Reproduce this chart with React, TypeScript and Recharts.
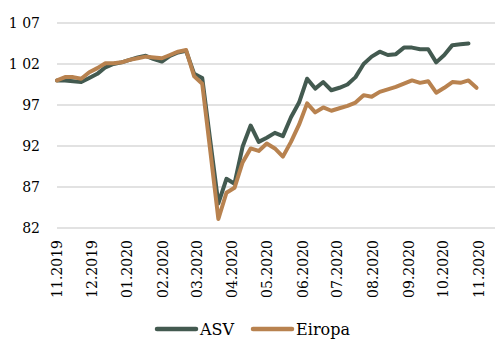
import { LineChart, Line, XAxis, YAxis, CartesianGrid } from "recharts";

// weekly observations, index 100 at 01.11.2019
const ASV = [
  100.0, 100.0, 99.9, 99.8, 100.3, 100.8, 101.6, 102.0, 102.2, 102.5, 102.8,
  103.0, 102.6, 102.3, 103.0, 103.4, 103.6, 100.8, 100.3, 92.6, 85.0, 88.0,
  87.4, 91.9, 94.5, 92.5, 93.0, 93.6, 93.2, 95.5, 97.3, 100.2, 99.0, 99.8,
  98.8, 99.1, 99.5, 100.4, 102.0, 102.9, 103.5, 103.1, 103.2, 104.0, 104.0,
  103.8, 103.8, 102.2, 103.1, 104.3, 104.4, 104.5,
];
const EIROPA = [
  100.0, 100.4, 100.4, 100.2, 101.0, 101.5, 102.1, 102.1, 102.2, 102.5, 102.7,
  102.9, 102.8, 102.7, 103.1, 103.5, 103.7, 100.5, 99.6, 91.4, 83.1, 86.3,
  86.9, 90.0, 91.7, 91.4, 92.3, 91.7, 90.7, 92.5, 94.6, 97.2, 96.1, 96.7,
  96.3, 96.6, 96.9, 97.3, 98.2, 98.0, 98.6, 98.9, 99.2, 99.6, 100.0, 99.7,
  99.9, 98.5, 99.1, 99.8, 99.7, 100.0, 99.1,
];

// days since 01.11.2019 for each month start
const MONTH_TICKS = [0, 30, 61, 92, 121, 152, 182, 213, 243, 274, 305, 335, 366];
const MONTH_LABELS = [
  "11.2019", "12.2019", "01.2020", "02.2020", "03.2020", "04.2020", "05.2020",
  "06.2020", "07.2020", "08.2020", "09.2020", "10.2020", "11.2020",
];
const Y_TICKS = [82, 87, 92, 97, 102, 107];
const Y_LABELS: Record<number, string> = {
  82: "82", 87: "87", 92: "92", 97: "97", 102: "1 02", 107: "1 07",
};

const COLOR_ASV = "#435a50";
const COLOR_EIROPA = "#b8824f";
const FONT = "'DejaVu Serif', serif";

const data = EIROPA.map((v, i) => ({
  day: i * 7,
  asv: i < ASV.length ? ASV[i] : null,
  eiropa: v,
}));

function MonthTick(props: any) {
  const { x, y, payload } = props;
  const idx = MONTH_TICKS.indexOf(payload.value);
  return (
    <text
      transform={`translate(${x},${y + 12}) rotate(-90)`}
      textAnchor="end"
      dy="0.36em"
      fontFamily={FONT}
      fontSize={14}
      fill="#000"
    >
      {MONTH_LABELS[idx]}
    </text>
  );
}

function LegendItem({ color, label }: { color: string; label: string }) {
  return (
    <div style={{ display: "flex", alignItems: "center" }}>
      <svg width={45} height={8}>
        <line x1={3} y1={4} x2={42} y2={4} stroke={color} strokeWidth={4.5} strokeLinecap="round" />
      </svg>
      <span style={{ marginLeft: 1 }}>{label}</span>
    </div>
  );
}

export default function App() {
  return (
    <div style={{ position: "absolute", left: 0, top: 0, width: 503, height: 361, background: "#fff", fontFamily: FONT }}>
      <LineChart width={503} height={361} data={data} margin={{ top: 23, right: 8, left: 0, bottom: 0 }}>
        <CartesianGrid vertical={false} stroke="#d9d9d9" strokeWidth={1.5} />
        <XAxis
          type="number"
          dataKey="day"
          domain={[0, 380]}
          ticks={MONTH_TICKS}
          interval={0}
          tick={<MonthTick />}
          tickLine={false}
          axisLine={false}
          tickSize={0}
          tickMargin={0}
          height={133}
        />
        <YAxis
          type="number"
          domain={[82, 107]}
          ticks={Y_TICKS}
          interval={0}
          width={57}
          tickFormatter={(v: number) => Y_LABELS[v] ?? String(v)}
          tick={{ fontFamily: FONT, fontSize: 14, fill: "#000" }}
          tickLine={false}
          axisLine={false}
          tickSize={0}
          tickMargin={17}
        />
        <Line
          dataKey="asv"
          name="ASV"
          stroke={COLOR_ASV}
          strokeWidth={4}
          strokeLinejoin="round"
          strokeLinecap="round"
          dot={false}
          isAnimationActive={false}
        />
        <Line
          dataKey="eiropa"
          name="Eiropa"
          stroke={COLOR_EIROPA}
          strokeWidth={4}
          strokeLinejoin="round"
          strokeLinecap="round"
          dot={false}
          isAnimationActive={false}
        />
      </LineChart>
      <div
        style={{
          position: "absolute",
          top: 319,
          left: 154,
          height: 20,
          display: "flex",
          alignItems: "center",
          gap: 16,
          fontSize: 16,
          color: "#000",
        }}
      >
        <LegendItem color={COLOR_ASV} label="ASV" />
        <LegendItem color={COLOR_EIROPA} label="Eiropa" />
      </div>
    </div>
  );
}
